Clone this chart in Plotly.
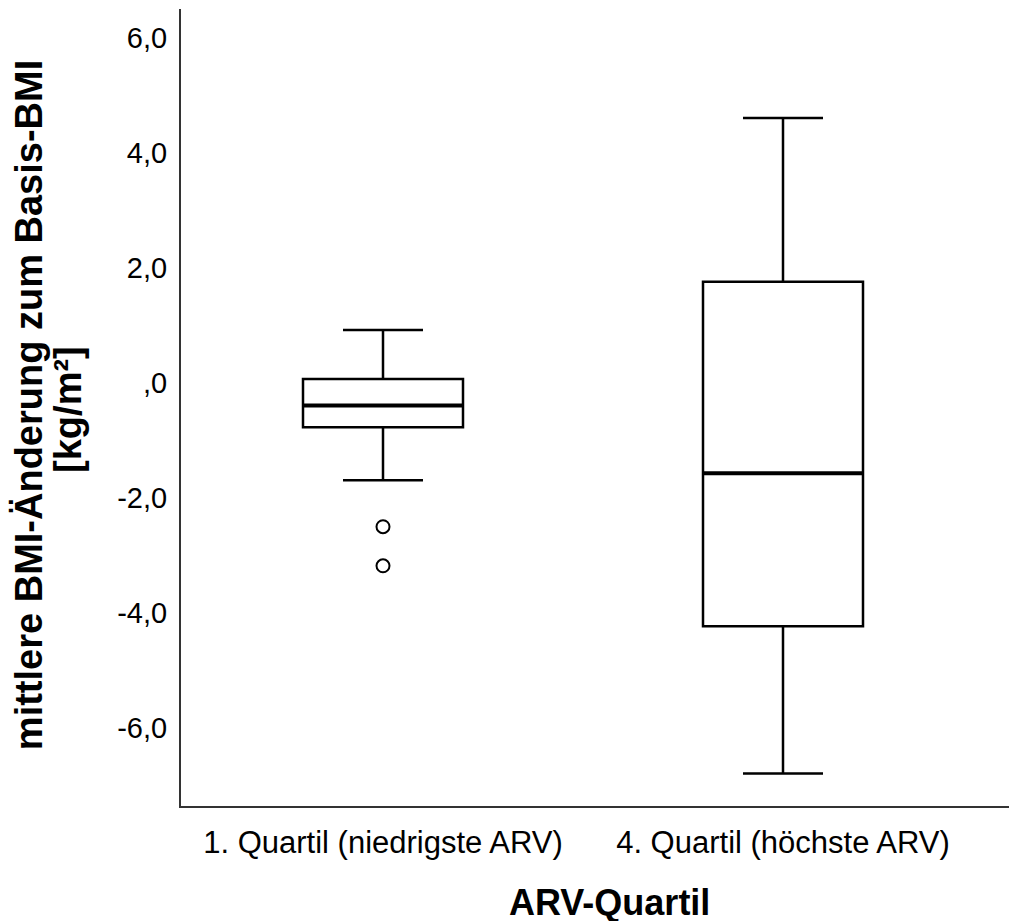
import plotly.graph_objects as go

# ---- data ----
categories = ["1. Quartil (niedrigste ARV)", "4. Quartil (höchste ARV)"]
q1_vals = [-0.77, -4.23]
median_vals = [-0.39, -1.57]
q3_vals = [0.07, 1.76]
lower_fence = [-1.69, -6.79]
upper_fence = [0.92, 4.61]
outlier_cat = ["1. Quartil (niedrigste ARV)", "1. Quartil (niedrigste ARV)"]
outlier_vals = [-2.50, -3.18]

ytick_vals = [6, 4, 2, 0, -2, -4, -6]
ytick_text = ["6,0", "4,0", "2,0", ",0", "-2,0", "-4,0", "-6,0"]

y_title_1 = "mittlere BMI-Änderung zum Basis-BMI"
y_title_2 = "[kg/m²]"
x_title = "ARV-Quartil"

FONT = "Arial, Liberation Sans, sans-serif"

fig = go.Figure()

# main boxes
fig.add_trace(go.Box(
    x=categories,
    q1=q1_vals, median=median_vals, q3=q3_vals,
    lowerfence=lower_fence, upperfence=upper_fence,
    width=0.4, whiskerwidth=0.5,
    fillcolor="rgba(255,255,255,0)",
    line=dict(color="black", width=2.5),
    boxpoints=False, showlegend=False, hoverinfo="skip",
))

# thicker median line
fig.add_trace(go.Box(
    x=categories,
    q1=median_vals, median=median_vals, q3=median_vals,
    lowerfence=median_vals, upperfence=median_vals,
    width=0.4, whiskerwidth=0,
    fillcolor="rgba(255,255,255,0)",
    line=dict(color="black", width=4),
    boxpoints=False, showlegend=False, hoverinfo="skip",
))

# outliers
fig.add_trace(go.Scatter(
    x=outlier_cat, y=outlier_vals, mode="markers",
    marker=dict(symbol="circle-open", size=13, color="black", line=dict(width=2)),
    showlegend=False, hoverinfo="skip",
))

fig.update_layout(
    width=1017, height=921,
    margin=dict(l=173, r=0, t=1, b=123),
    paper_bgcolor="white", plot_bgcolor="white",
    boxmode="overlay",
    font=dict(family=FONT, color="black"),
    xaxis=dict(
        type="category", categoryorder="array", categoryarray=categories,
        range=[-0.505, 1.605],
        showline=True, linecolor="#333333", linewidth=2,
        showgrid=False, zeroline=False, ticks="",
        tickfont=dict(size=31, family=FONT, color="black"),
        ticklabelstandoff=8,
    ),
    yaxis=dict(
        range=[-7.357, 6.504],
        tickvals=ytick_vals, ticktext=ytick_text,
        showline=True, linecolor="#333333", linewidth=2,
        showgrid=False, zeroline=False, ticks="",
        tickfont=dict(size=29, family=FONT, color="black"),
        ticklabelstandoff=6,
    ),
    annotations=[
        dict(text=f"<b>{y_title_1}</b>", textangle=-90, showarrow=False,
             xref="paper", yref="paper", x=-0.1777, y=0.503,
             xanchor="center", yanchor="middle", xshift=-2,
             font=dict(size=38, family=FONT, color="black")),
        dict(text=f"<b>{y_title_2}</b>", textangle=-90, showarrow=False,
             xref="paper", yref="paper", x=-0.1291, y=0.497,
             xanchor="center", yanchor="middle", xshift=-4,
             font=dict(size=38, family=FONT, color="black")),
        dict(text=f"<b>{x_title}</b>", showarrow=False,
             xref="paper", yref="paper", x=0.508, y=-0.1255,
             xanchor="center", yanchor="middle", yshift=4,
             font=dict(size=36, family=FONT, color="black")),
    ],
)

fig.write_html("out.html")
